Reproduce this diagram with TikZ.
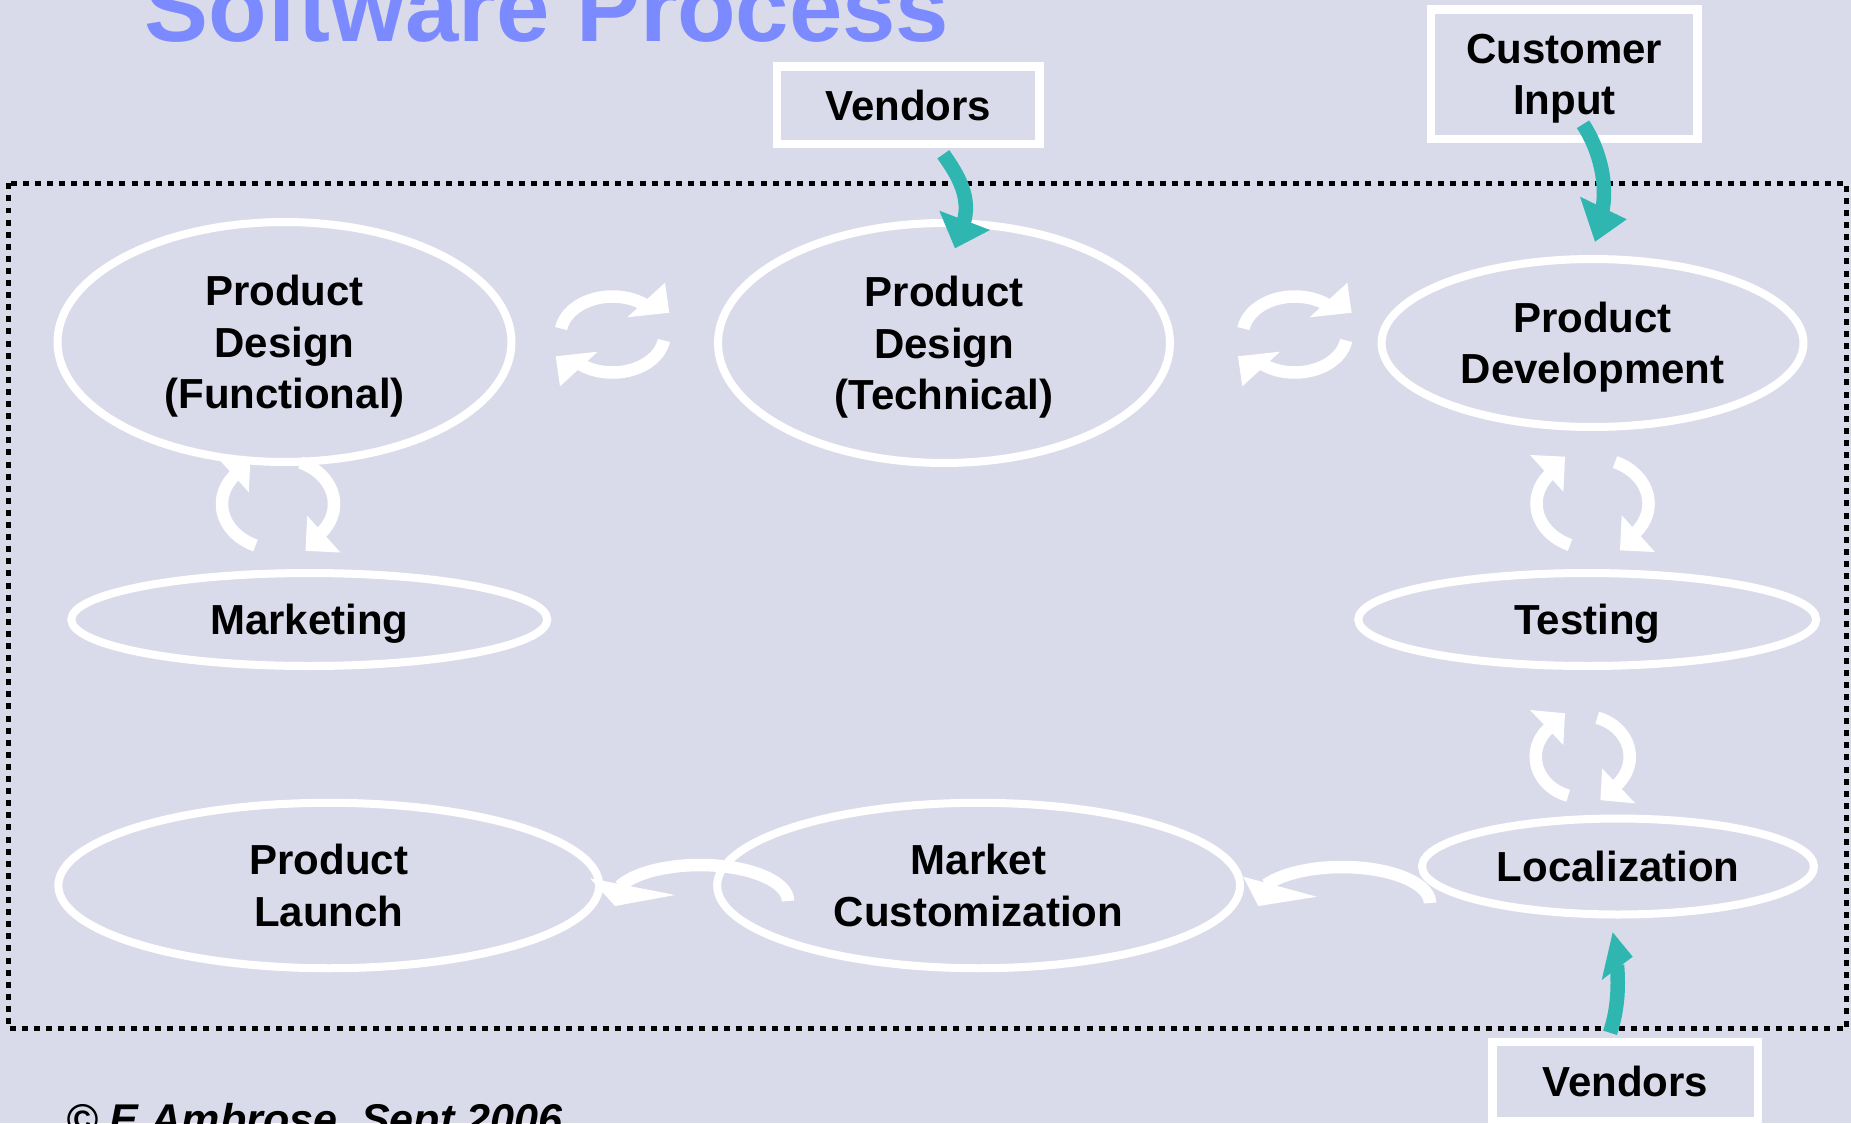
\documentclass[tikz,border=0pt]{standalone}
\usepackage{fontspec}
\setmainfont{Liberation Sans}
\usetikzlibrary{shapes.geometric,calc}
\definecolor{bgc}{RGB}{218,219,234}
\definecolor{tealc}{RGB}{47,182,176}
\definecolor{titlec}{RGB}{123,139,255}
\newcommand\hswapicon{%
  \draw[wband] plot[domain=189:312,samples=40,variable=\t] ({52*cos(\t)},{38*sin(\t)});
  \fill[white] (14.8,-17.2) -- (52.5,-51.8) -- (56.8,-21.8) -- cycle;
  \draw[wband] plot[domain=9:132,samples=40,variable=\t] ({52*cos(\t)},{38*sin(\t)});
  \fill[white] (-14.8,17.2) -- (-52.5,51.8) -- (-56.8,21.8) -- cycle;}
\newcommand\vswapicon{%
  \draw[wband] plot[domain=113.7:222,samples=40,variable=\t] ({56*cos(\t)},{45.3*sin(\t)});
  \fill[white] (-62.5,-48.5) -- (-27.5,-46.8) -- (-29.2,-11.8) -- cycle;
  \draw[wband] plot[domain=293.7:402,samples=40,variable=\t] ({56*cos(\t)},{45.3*sin(\t)});
  \fill[white] (62.5,48.5) -- (27.5,46.8) -- (29.2,11.8) -- cycle;}
\begin{document}
\begin{tikzpicture}[x=0.02cm,y=-0.02cm,
  lbl/.style={font=\fontsize{23.9pt}{29.3pt}\selectfont\bfseries,align=center,text depth=0pt,inner sep=0pt,text=black},
  ovalnode/.style={lbl,ellipse,draw=white,line width=0.16cm},
  boxnode/.style={lbl,rectangle,draw=white,line width=0.17cm},
  wband/.style={draw=white,line width=0.25cm},
  tband/.style={draw=tealc,line width=0.29cm},
  dotborder/.style={draw=black,line width=0.11cm,dash pattern=on 0.12cm off 0.122cm}]
\useasboundingbox (0,0) rectangle (1851,1123);
\clip (0,0) rectangle (1851,1123);
\fill[bgc] (0,0) rectangle (1851,1123);
\node[anchor=base west,inner sep=0pt,text=titlec,font=\fontsize{54.6pt}{60pt}\selectfont\bfseries] (title) at (144,41) {Software Process};
\draw[dotborder] (8.3,183.3) rectangle (1846.7,1028.5);
% ovals
\node[ovalnode,minimum width=9.08cm,minimum height=4.8cm] (pdf) at (284.5,342) {Product\\Design\\(Functional)};
\node[ovalnode,minimum width=9.04cm,minimum height=4.8cm] (pdt) at (944,343) {Product\\Design\\(Technical)};
\node[ovalnode,minimum width=8.44cm,minimum height=3.36cm] (pdev) at (1592.5,343) {Product\\Development};
\node[ovalnode,minimum width=9.52cm,minimum height=1.86cm] (mkt) at (309.3,619.5) {Marketing};
\node[ovalnode,minimum width=9.16cm,minimum height=1.86cm] (tst) at (1587.2,619.5) {Testing};
\node[ovalnode,minimum width=7.84cm,minimum height=1.92cm] (loc) at (1618,866.5) {Localization};
\node[ovalnode,minimum width=10.46cm,minimum height=3.31cm] (mc) at (978.6,885.5) {Market\\Customization};
\node[ovalnode,minimum width=10.82cm,minimum height=3.31cm] (pl) at (328.8,885.5) {Product\\Launch};
% boxes
\node[boxnode,minimum width=5.25cm,minimum height=1.55cm] (vt) at (908.3,105.3) {Vendors};
\node[boxnode,minimum width=5.33cm,minimum height=2.59cm] (ci) at (1564.3,74.3) {Customer\\Input};
\node[boxnode,minimum width=5.31cm,minimum height=1.58cm] (vb) at (1625.3,1081.5) {Vendors};
% copyright
\node[anchor=base west,inner sep=0pt,font=\fontsize{24.5pt}{29pt}\selectfont\bfseries\itshape] (copy) at (66,1134) {© E Ambrose, Sept 2006};
% swap icons
\begin{scope}[shift={(612.5,334.5)}]\hswapicon\end{scope}
\begin{scope}[shift={(1294.8,334.5)}]\hswapicon\end{scope}
\begin{scope}[shift={(278,504)}]\vswapicon\end{scope}
\begin{scope}[shift={(1592.5,503.5)}]\vswapicon\end{scope}
\begin{scope}[shift={(1582.7,756.7)}]
  \draw[wband] plot[domain=108:226,samples=40,variable=\t] ({47*cos(\t)},{41*sin(\t)});
  \fill[white] (-52.7,-46.7) -- (-17.7,-43.4) -- (-19.4,-11.7) -- cycle;
  \draw[wband] plot[domain=288:406,samples=40,variable=\t] ({47*cos(\t)},{41*sin(\t)});
  \fill[white] (52.7,46.7) -- (17.7,43.4) -- (19.4,11.7) -- cycle;
\end{scope}
% flow arcs between bottom ovals
\begin{scope}[shift={(1342,903)}]
  \draw[wband] plot[domain=210:360,samples=40,variable=\t] ({88*cos(\t)},{36*sin(\t)});
\end{scope}
\fill[white] (1243.3,876.7) -- (1316.7,896.7) -- (1258.3,906) -- cycle;
\begin{scope}[shift={(700,901)}]
  \draw[wband] plot[domain=204:360,samples=40,variable=\t] ({88*cos(\t)},{36*sin(\t)});
\end{scope}
\fill[white] (590,878.3) -- (675,895) -- (615,906) -- cycle;
% teal input arrows
\coordinate (a1) at ($(vt.south)+(35,6)$);
\draw[tband] (a1) .. controls (958,175) and (972,198) .. (963,225);
\fill[tealc] (939.3,210.7) -- (990,230) -- (955,248.3) -- cycle;
\coordinate (a2) at ($(ci.south)+(18.7,-19)$);
\draw[tband] (a2) .. controls (1600,150) and (1608,185) .. (1602,212);
\fill[tealc] (1580,196.7) -- (1626.7,219.3) -- (1595,241.7) -- cycle;
\coordinate (a3) at ($(vb.north)+(-15.3,-5)$);
\draw[tband] (a3) .. controls (1617,1012) and (1619,990) .. (1617,965);
\fill[tealc] (1601.7,980) -- (1632.7,956.7) -- (1612.7,932.3) -- cycle;
\end{tikzpicture}
\end{document}
